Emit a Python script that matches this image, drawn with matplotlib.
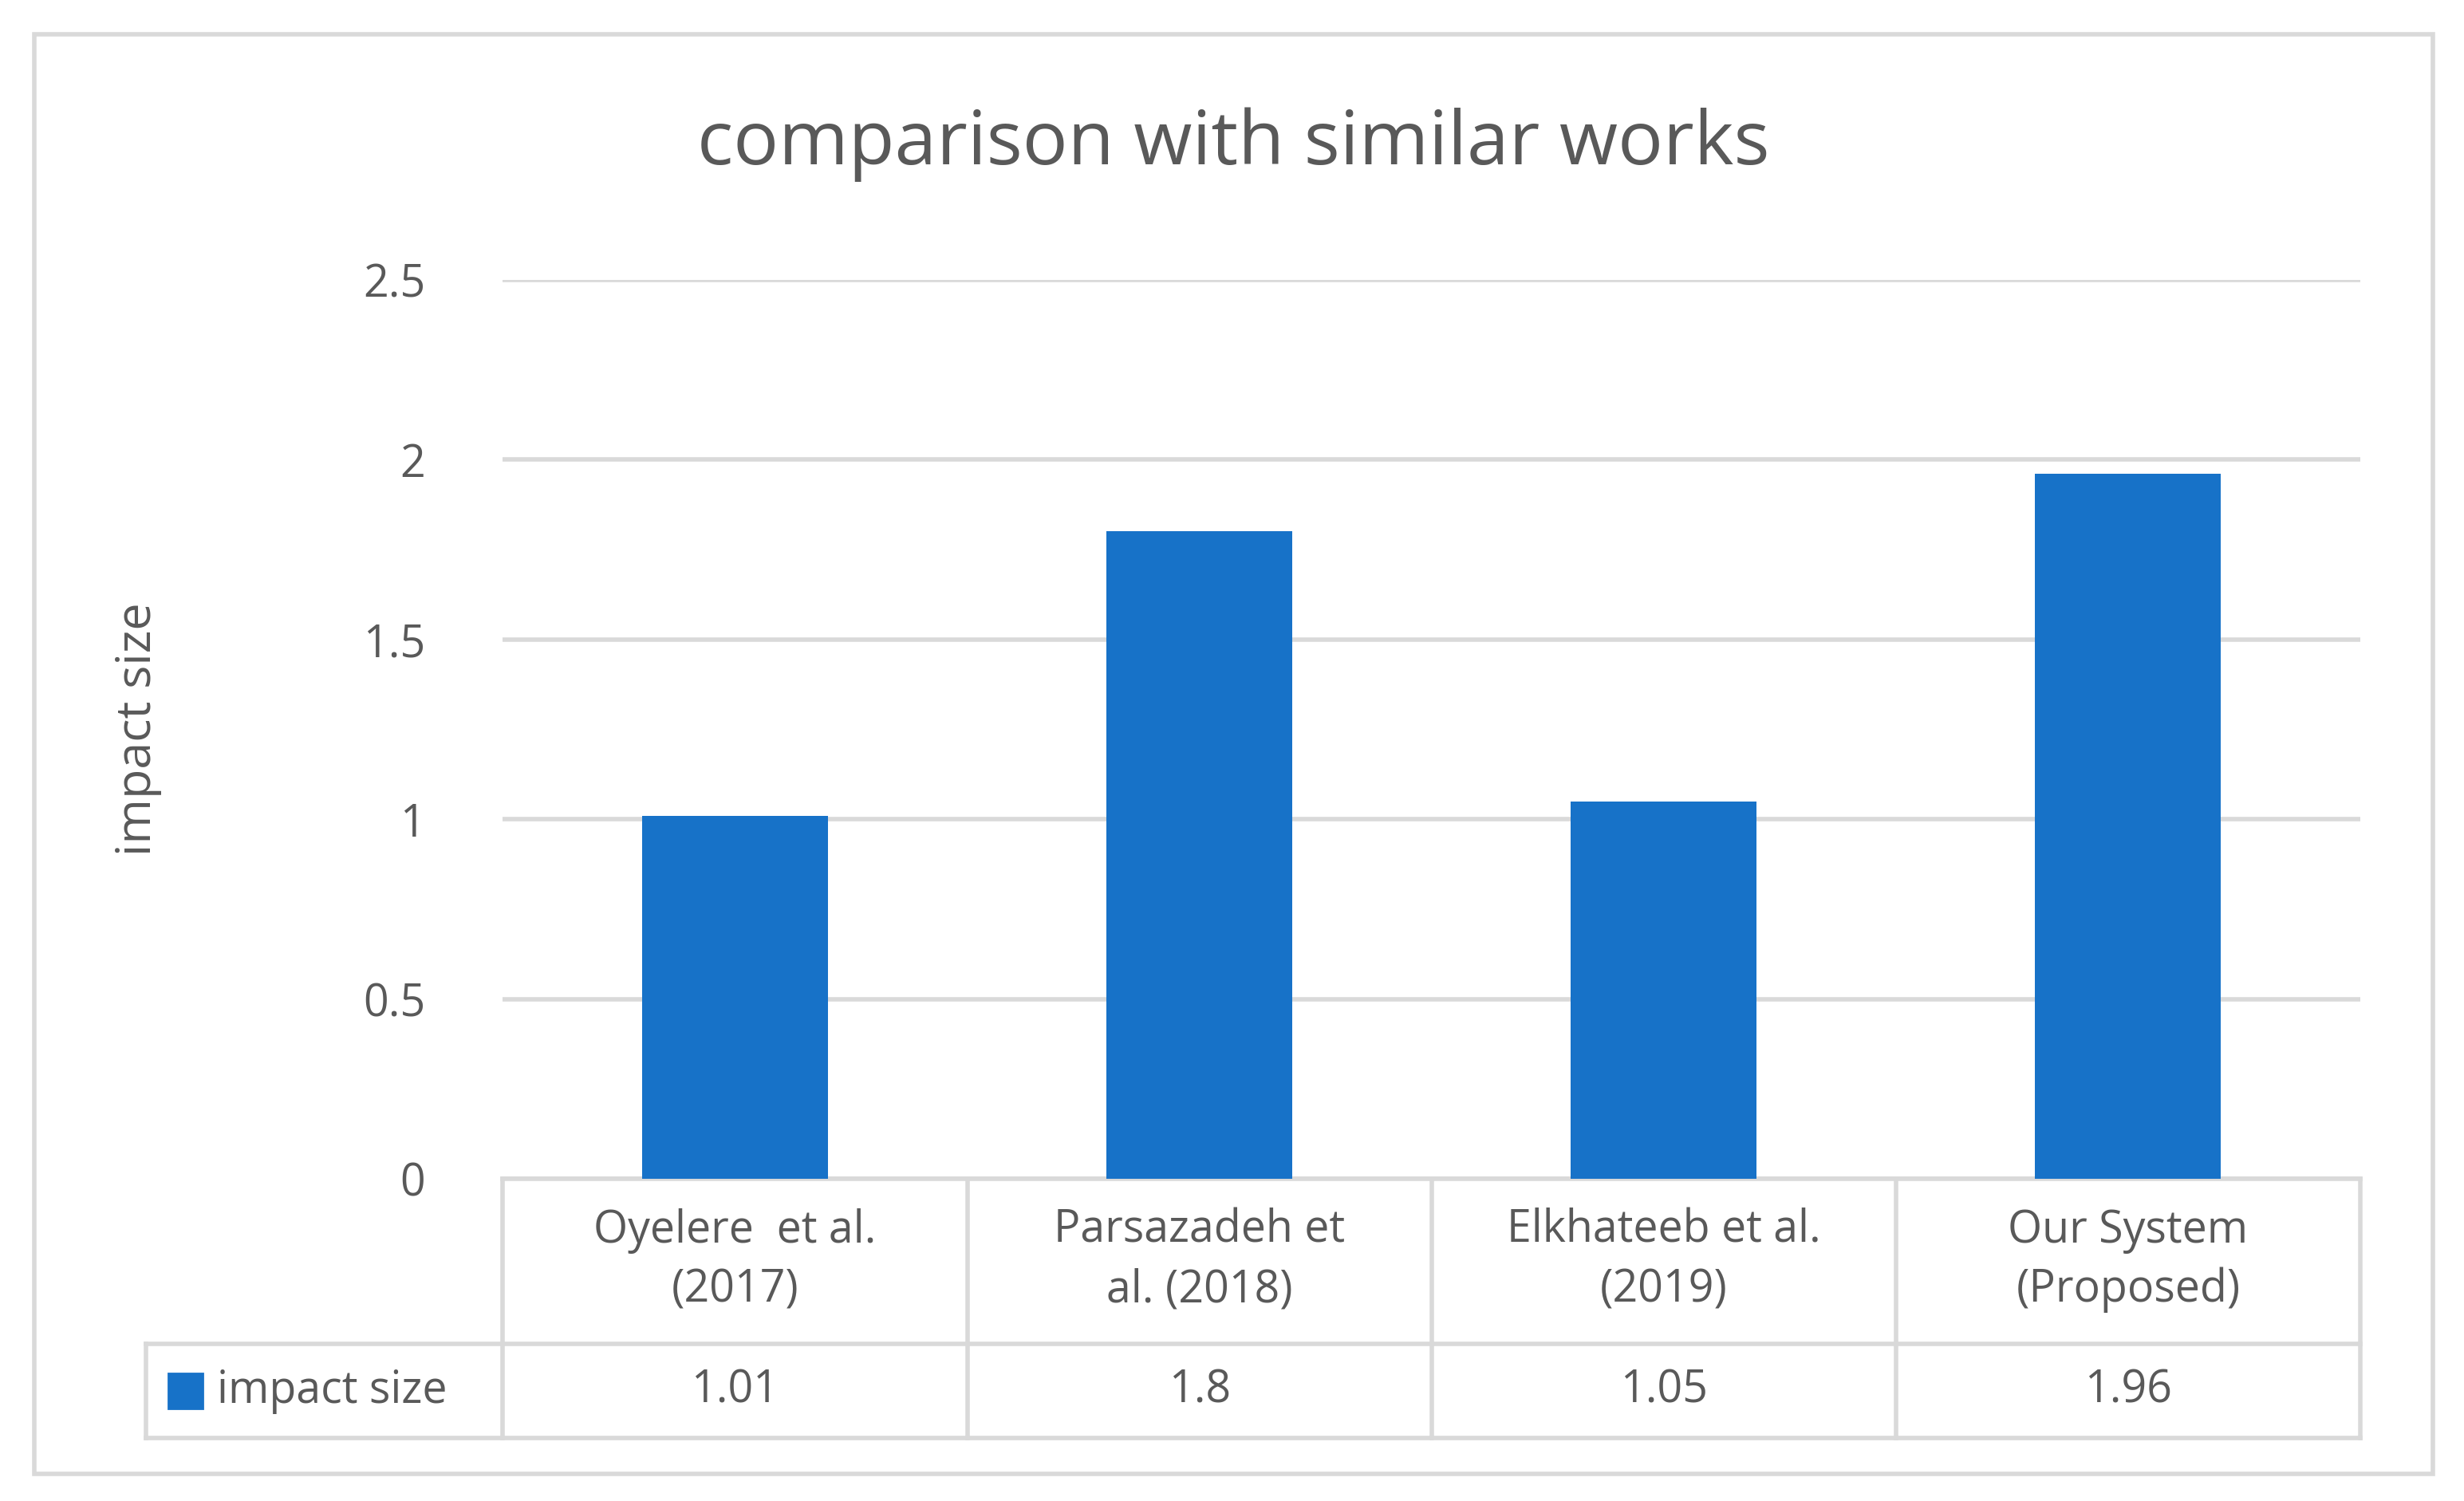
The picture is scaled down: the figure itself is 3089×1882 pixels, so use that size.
import matplotlib.pyplot as plt
from matplotlib.patches import Rectangle

categories = ["Oyelere  et al.\n(2017)", "Parsazadeh et\nal. (2018)", "Elkhateeb et al.\n(2019)", "Our System\n(Proposed)"]
values = [1.01, 1.8, 1.05, 1.96]
value_labels = ["1.01", "1.8", "1.05", "1.96"]
series = "impact size"

TXT = "#595959"
GRID = "#d9d9d9"
BAR = "#1772c8"
plt.rcParams['font.family'] = ['Open Sans', 'DejaVu Sans']

W, H = 1568, 955
fig = plt.figure(figsize=(15.445, 9.41), dpi=200)
fig.patches.append(Rectangle((22 / W, 1 - 938 / H), (1548 - 22) / W, (938 - 22) / H,
                             transform=fig.transFigure, fill=False, ec=GRID, lw=2))

ax = fig.add_axes([320 / W, 1 - 750 / H, (1502 - 320) / W, (750 - 178) / H])
x = range(len(values))
ax.bar(x, values, width=0.4, color=BAR, zorder=3)
ax.set_xlim(-0.5, 3.5)
ax.set_ylim(0, 2.5)
ax.set_yticks([0, 0.5, 1, 1.5, 2, 2.5])
ax.set_yticklabels(["0", "0.5", "1", "1.5", "2", "2.5"])
ax.yaxis.grid(True, color=GRID, lw=2, zorder=0)
ax.tick_params(axis='y', length=0, labelsize=20, labelcolor=TXT, pad=35)
ax.set_xticks([])
for s in ax.spines.values():
    s.set_visible(False)
ax.set_ylabel(series, fontsize=22, color=TXT, labelpad=60)
ax.yaxis.set_label_coords((103 - 320) / 1182, 0.5)
fig.text(785 / W, 1 - 92 / H, "comparison with similar works", ha='center', va='center',
         fontsize=34, color=TXT)

# data table below the axis
def fy(py):
    return (750 - py) / 572
def fx(px):
    return (px - 320) / 1182

kw = dict(transform=ax.transAxes, clip_on=False, color=GRID, lw=2)
ax.plot([0, 1], [0, 0], **kw)
ax.plot([fx(93), 1], [fy(855), fy(855)], **kw)
ax.plot([fx(93), 1], [fy(915), fy(915)], **kw)
ax.plot([fx(93), fx(93)], [fy(855), fy(915)], **kw)
for i in range(len(values) + 1):
    ax.plot([i / 4, i / 4], [0, fy(915)], **kw)
for i, (c, v) in enumerate(zip(categories, value_labels)):
    ax.text((i + 0.5) / 4, fy(802), c, transform=ax.transAxes, ha='center', va='center',
            fontsize=20, color=TXT, linespacing=1.4)
    ax.text((i + 0.5) / 4, fy(885), v, transform=ax.transAxes, ha='center', va='center',
            fontsize=20, color=TXT)
ax.add_patch(Rectangle((fx(107), fy(896)), fx(129) - fx(107), fy(874) - fy(896),
                       transform=ax.transAxes, clip_on=False, color=BAR))
ax.text(fx(138), fy(885), series, transform=ax.transAxes, ha='left', va='center',
        fontsize=20, color=TXT)

fig.savefig("out.png", dpi=200)
